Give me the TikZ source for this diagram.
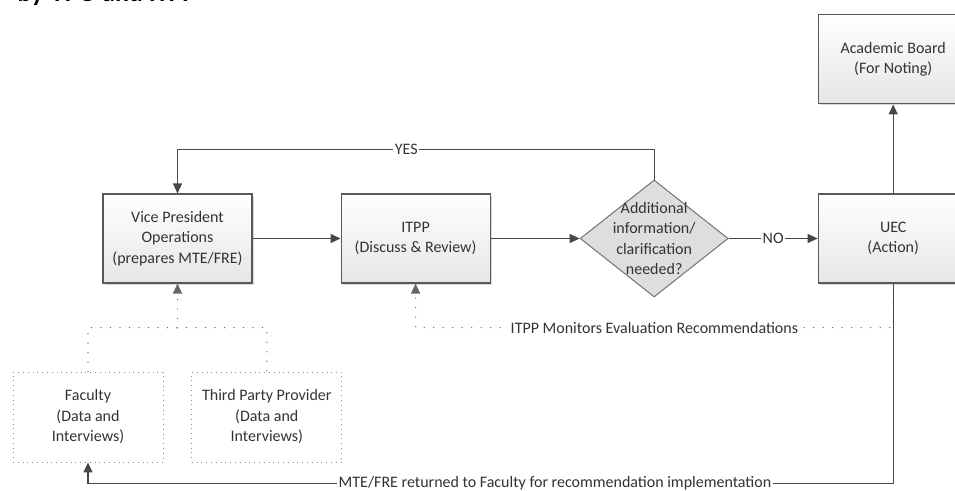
\documentclass[tikz,border=0pt]{standalone}
\usepackage{fontspec}
\setmainfont{Carlito}
\usetikzlibrary{arrows.meta,positioning,shapes.geometric,shadows}

\begin{document}
\begin{tikzpicture}[x=1pt,y=-1pt,>={Triangle[length=10pt,width=9pt]},
  every node/.style={font=\fontsize{16}{20.5}\selectfont,text=black!80},
  main node/.style={rectangle,draw=black!65,line width=1.1pt,top color=white,bottom color=black!10,
    drop shadow={shadow xshift=1.5pt,shadow yshift=-1.5pt,opacity=0.3},
    minimum width=149pt,minimum height=89pt,align=center,inner sep=2pt},
  source node/.style={rectangle,draw=black!45,line width=0.8pt,dash pattern=on 0.8pt off 4pt,
    minimum width=150pt,minimum height=90pt,align=center,inner sep=2pt},
  decision/.style={diamond,draw=black!55,line width=1pt,fill=black!13,
    minimum width=148pt,minimum height=117pt,inner sep=0pt},
  conn/.style={draw=black!72,line width=1.2pt},
  dotline/.style={draw=black!60,line width=1.4pt,line cap=round,dash pattern=on 0pt off 9.5pt},
  lbl/.style={fill=white,inner sep=1.5pt}]

  \useasboundingbox (0,0) rectangle (955,490);
  \clip (0,0) rectangle (955,490);

  % heading cut off at the top
  \node[anchor=base west,font=\fontsize{26}{30}\selectfont\bfseries,text=black] (heading) at (14,1) {by VPO and ITPP};

  % main flow
  \node[main node] (vpo) at (177.5,238.5) {Vice President\\Operations\\(prepares MTE/FRE)};
  \node[main node] (itpp) [right=88pt of vpo] {ITPP\\(Discuss \& Review)};
  \node[decision] (dec) [right=89pt of itpp] {};
  \node[align=center] (dectext) at (dec) {Additional\\information/\\clarification\\needed?};
  \node[main node,minimum width=150pt] (uec) [right=89pt of dec] {UEC\\(Action)};
  \node[main node,minimum width=150pt] (board) [above=89pt of uec] {Academic Board\\(For Noting)};

  % input sources
  \node[source node] (faculty) at (88,417) {Faculty\\(Data and\\Interviews)};
  \node[source node] (third) [right=28pt of faculty] {Third Party Provider\\(Data and\\Interviews)};
  \coordinate (fork) at (177.5,328);

  \draw[conn,->] (vpo) -- (itpp);
  \draw[conn,->] (itpp) -- (dec);
  \draw[conn,->] (dec) -- node[lbl] {NO} (uec);
  \draw[conn,->] (uec) -- (board);
  \draw[conn,->] (dec.north) -- ++(0,-30) -| node[lbl,pos=0.26] {YES} (vpo.north);

  \draw[dotline] (faculty.north) -- ++(0,-44) -| (third.north);
  \draw[dotline,->] (fork) -- (vpo.south);
  \draw[dotline,->] (uec.south) -- ++(0,44) -| node[lbl,pos=0.25] {ITPP Monitors Evaluation Recommendations} (itpp.south);

  \draw[conn,->] (uec.south) -- ++(0,200) -| node[lbl,pos=0.21] {MTE/FRE returned to Faculty for recommendation implementation} (faculty.south);
\end{tikzpicture}
\end{document}
